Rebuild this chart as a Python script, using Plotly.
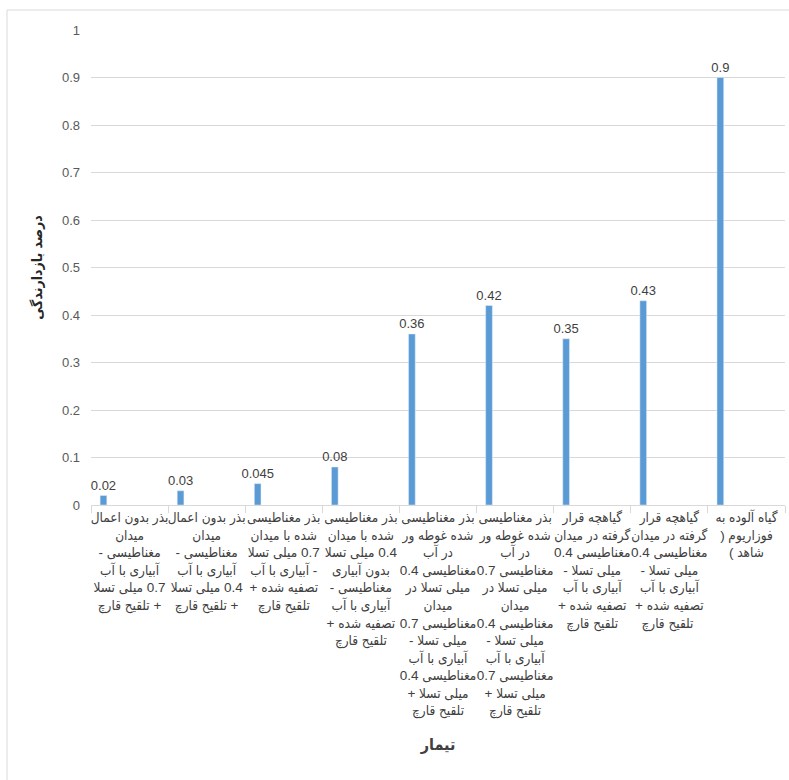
import plotly.graph_objects as go

categories = [
    "بذر بدون اعمال<br>میدان<br>مغناطیسی -<br>آبیاری با آب<br>0.7 میلی تسلا<br>+ تلقیح قارچ",
    "بذر بدون اعمال<br>میدان<br>مغناطیسی -<br>آبیاری با آب<br>0.4 میلی تسلا<br>+ تلقیح قارچ",
    "بذر مغناطیسی<br>شده با میدان<br>0.7 میلی تسلا<br>- آبیاری با آب<br>تصفیه شده +<br>تلقیح قارچ",
    "بذر مغناطیسی<br>شده با میدان<br>0.4 میلی تسلا<br>بدون آبیاری<br>مغناطیسی -<br>آبیاری با آب<br>تصفیه شده +<br>تلقیح قارچ",
    "بذر مغناطیسی<br>شده غوطه ور<br>در آب<br>مغناطیسی 0.4<br>میلی تسلا در<br>میدان<br>مغناطیسی 0.7<br>میلی تسلا -<br>آبیاری با آب<br>مغناطیسی 0.4<br>میلی تسلا +<br>تلقیح قارچ",
    "بذر مغناطیسی<br>شده غوطه ور<br>در آب<br>مغناطیسی 0.7<br>میلی تسلا در<br>میدان<br>مغناطیسی 0.4<br>میلی تسلا -<br>آبیاری با آب<br>مغناطیسی 0.7<br>میلی تسلا +<br>تلقیح قارچ",
    "گیاهچه قرار<br>گرفته در میدان<br>مغناطیسی 0.4<br>میلی تسلا -<br>آبیاری با آب<br>تصفیه شده +<br>تلقیح قارچ",
    "گیاهچه قرار<br>گرفته در میدان<br>مغناطیسی 0.4<br>میلی تسلا -<br>آبیاری با آب<br>تصفیه شده +<br>تلقیح قارچ ",
    "گیاه آلوده به<br>فوزاریوم (<br>شاهد )",
]
values = [0.02, 0.03, 0.045, 0.08, 0.36, 0.42, 0.35, 0.43, 0.9]
value_labels = ["0.02", "0.03", "0.045", "0.08", "0.36", "0.42", "0.35", "0.43", "0.9"]

y_title = "درصد بازدارندگی"
x_title = "تیمار"

RLE, PDF = "\u202b", "\u202c"


def rtl(label):
    return "<br>".join(RLE + part + PDF for part in label.split("<br>"))


tick_text = [rtl(c) for c in categories]

FONT = "Liberation Sans, DejaVu Sans, sans-serif"
AR_FONT = "Liberation Sans, DejaVu Sans Condensed, sans-serif"

fig = go.Figure()
fig.add_trace(go.Bar(
    x=tick_text,
    y=values,
    text=value_labels,
    textposition="outside",
    constraintext="none",
    textfont=dict(size=13, color="#404040", family=FONT),
    marker=dict(color="#5B9BD5"),
    width=0.087,
    offset=-0.382,
    cliponaxis=False,
))

fig.update_layout(
    width=789,
    height=780,
    margin=dict(l=91, r=4, t=30, b=275),
    paper_bgcolor="white",
    plot_bgcolor="white",
    showlegend=False,
    font=dict(family=FONT, color="#595959", size=13),
    xaxis=dict(
        type="category",
        tickson="boundaries",
        ticks="outside",
        ticklen=7,
        tickcolor="#d9d9d9",
        showgrid=False,
        showline=True,
        linecolor="#d9d9d9",
        tickfont=dict(size=13.5, color="#404040", family=AR_FONT),
        tickangle=0,
        automargin=False,
        title=dict(text="<b>" + x_title + "</b>", font=dict(size=16, color="#404040", family=AR_FONT), standoff=20),
    ),
    yaxis=dict(
        range=[0, 1],
        dtick=0.1,
        showgrid=True,
        gridcolor="#d9d9d9",
        zeroline=False,
        showline=False,
        ticks="",
        ticklabelstandoff=10,
        tickfont=dict(size=13, color="#595959", family=FONT),
        automargin=False,
        title=dict(text=RLE + y_title + PDF, font=dict(size=14, color="#262626", family="DejaVu Sans Condensed, sans-serif", weight="bold"), standoff=16),
    ),
    shapes=[dict(
        type="rect", xref="paper", yref="paper",
        x0=(7 - 91) / 694, x1=3, y0=-2, y1=(505 - 10) / 475,
        line=dict(color="#d9d9d9", width=1), fillcolor="rgba(0,0,0,0)", layer="below",
    )],
)

fig.write_html("out.html")
